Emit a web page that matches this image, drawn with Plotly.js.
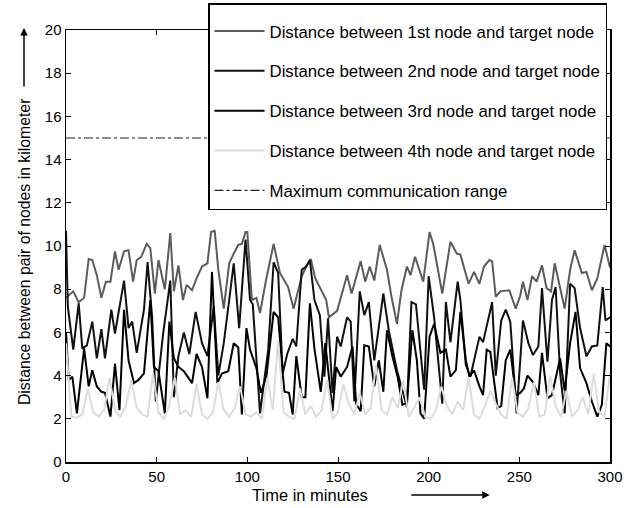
<!DOCTYPE html>
<html>
<head>
<meta charset="utf-8">
<script src="https://cdn.plot.ly/plotly-3.0.1.min.js"></script>
<style>html,body{margin:0;padding:0;background:#fff;}#chart{width:635px;height:508px;}</style>
</head>
<body>
<div id="chart"></div>
<script>
// ---- data ----
const seriesNames = [
  "Distance between 1st node and target node",
  "Distance between 2nd node and target node",
  "Distance between 3rd node and target node",
  "Distance between 4th node and target node",
  "Maximum communication range"
];

const time1 = [0,4,7,10,12.5,14.5,17,19.5,22,24.5,27,29,32,34.5,37,39,41.5,44.5,46.5,49,51,54.5,57.5,59.5,62,64.5,66.5,69.5,72,75,78,80,82,84,87,90,92.5,95,97,99,100,102.5,105,107,110.5,114.5,118,122.5,125.5,130,132.5,135,137.5,141,143.5,145,149.5,155,157.5,162.5,165,167.5,170,173,177,179.5,182.5,185,188,190,192.5,197,200.5,202.5,207.5,212,215.5,217.5,222,225,228,230.5,233.5,235,237,239.5,244.5,248,250.5,252,254.5,257,259.5,262.5,265,267.5,269.5,275,278,280.5,284.5,287,290,293,297,300];
const dist1 = [7.6,7.9,7.4,7.6,9.4,9.35,8.65,7.6,8.35,8.35,9.75,8.9,9.75,9.8,8.35,9.35,9.5,10.1,9.9,7.8,9.35,8.0,10.6,7.9,9.1,7.5,8.2,7.95,8.5,9.05,9.2,10.65,10.7,8.9,7.1,9.2,9.65,10.05,10.1,10.65,10.65,7.5,7.6,6.9,8.5,10.1,8.75,8.1,7.1,8.6,9.05,9.4,8.5,7.9,7.5,6.7,7.0,8.65,7.8,9.3,8.35,9.05,8.4,10.05,8.9,7.65,6.4,7.95,9.05,8.65,9.5,8.35,10.65,10.1,7.8,10.2,9.65,9.6,8.25,8.8,8.25,9.05,9.35,9.3,7.65,7.9,7.95,7.1,7.7,8.35,7.5,8.6,8.35,9.1,8.05,7.9,9.2,7.1,8.9,9.8,8.75,8.8,7.95,8.5,10.05,9.0];

const time2 = [0,1,4,7,9,11.5,14.5,17,19.5,21.5,25,27,32,34.5,36.5,39,43,45,47.5,49.5,53.5,57.5,59.5,62,65,68,71.5,75,78,81.5,84,87,90,92.5,95.5,99,101.5,103,107,111.5,114.5,117,119.5,122,125,127,130,132.5,134.5,137,140,142.5,144.5,147,149.5,151.5,155,157,159,162,164.5,167,170,175,178,182.5,188,190.5,193,197.5,200,203,207.5,209.5,212,216,217.5,220.5,223,228,230,235,237,240,242.5,245,248.5,252,255,257.5,260.5,262.5,265.5,268,270,272.5,275,278,280.5,283.5,287,290,293,296,297.5,300];
const dist2 = [10.7,7.2,5.2,7.35,5.25,5.4,6.5,4.8,6.15,4.8,7.05,5.95,8.4,6.2,6.5,5.05,7.05,9.25,6.7,2.8,5.9,8.4,3.0,4.9,6.0,5.0,6.95,5.5,4.9,7.2,4.0,5.5,7.5,9.2,6.2,10.3,7.5,7.3,2.25,5.2,9.25,8.75,4.1,5.0,5.7,5.35,8.9,9.05,9.35,7.5,6.8,3.95,6.65,3.2,5.8,5.35,6.7,6.5,2.8,7.9,6.8,7.4,4.7,7.8,6.1,4.25,2.55,7.4,7.3,3.35,8.6,6.7,2.7,7.4,5.55,8.35,7.5,4.5,3.95,5.8,5.55,7.4,4.0,6.55,7.05,6.5,2.25,6.55,5.5,4.95,5.35,8.05,4.65,7.5,8.1,4.1,2.25,8.25,8.05,6.2,4.9,5.35,5.4,8.1,6.55,6.7];

const time3 = [0,1.5,3.5,6,10,12.5,14.5,17,19.5,21.5,24.5,27,29.5,32,34.5,37.5,40,43,46.5,48.5,51,54.5,57,59.5,62,65,69.5,72,75,78,80.5,83.5,86,89.5,92.5,95,97,99.5,101.5,105,107.5,110.5,114.5,117,119.5,120.5,123,125,127,130,132,134.5,137,140.5,143,145.5,147,149,151.5,155,158,160,162.5,164.5,167,170,172.5,175,177,180,183,185.5,188,191,193.5,195.5,197.5,200.5,203,206.5,209.5,212,215,217.5,220.5,222.5,225,228,230,232,234,238,240,242.5,245,248,250.5,252.5,254.5,257.5,260.5,262.5,265.5,268,272.5,275,278,281,283.5,287,290,293,295.5,298,300];
const dist3 = [6.0,3.8,3.95,2.25,5.25,3.5,4.25,3.5,3.25,3.2,2.1,4.55,2.4,7.05,4.7,3.65,3.8,4.1,7.5,4.4,4.2,2.25,6.5,4.8,4.4,4.2,3.65,5.0,4.4,2.95,8.8,3.65,4.1,4.2,5.5,5.3,2.2,6.2,5.2,4.35,3.2,3.95,6.95,6.7,4.1,3.25,3.2,2.2,4.9,3.0,3.0,7.35,5.25,3.25,5.5,3.65,2.35,4.4,3.95,4.4,5.35,2.7,2.35,5.4,5.35,3.5,4.7,3.25,6.1,4.9,3.9,2.65,2.75,6.1,4.7,2.25,2.0,5.8,6.4,5.05,5.2,3.95,4.25,6.95,4.7,3.95,4.25,3.5,3.1,5.2,5.1,2.5,2.6,4.7,5.2,3.1,3.2,3.4,4.0,3.7,3.1,5.05,2.95,3.1,4.8,3.3,5.5,6.95,4.35,3.65,2.8,2.1,2.65,5.5,5.35];

const time4 = Array.from({length: 101}, (_, i) => i * 3); // sampling instants, every 3 minutes
const dist4 = [5.5,2.1,2.05,2.2,3.4,2.3,2.1,2.4,3.9,2.4,
               2.1,2.6,3.8,2.5,2.2,2.1,4.1,2.3,2.0,2.6,
               3.9,2.2,2.4,2.1,3.6,2.2,2.0,2.3,3.7,2.4,
               2.1,2.5,3.5,2.2,2.1,2.3,2.0,3.9,2.4,5.6,
               2.3,2.1,2.0,3.4,2.2,2.6,2.1,2.4,3.8,2.0,
               2.3,3.6,2.7,2.2,3.2,2.2,2.5,4.5,2.4,2.2,
               3.0,2.5,3.8,2.1,2.5,3.0,2.1,2.0,2.4,3.5,
               2.6,2.2,2.8,2.4,3.9,2.2,2.0,2.6,3.3,2.7,
               2.2,2.0,3.9,2.3,2.1,2.5,3.7,2.1,2.2,4.0,
               2.6,2.1,3.3,2.1,2.4,3.0,2.2,4.1,2.3,2.1,
               4.1];

const rangeTime = [0, 300];
const rangeDist = [15, 15];

const xTicks = [0, 50, 100, 150, 200, 250, 300];
const yTicks = [0, 2, 4, 6, 8, 10, 12, 14, 16, 18, 20];

// ---- chart ----
const FONT = "Liberation Sans, Arial, Helvetica, sans-serif";

const traces = [
  {x: time1, y: dist1, name: seriesNames[0], legendgroup: "g1", mode: "lines", line: {color: "#5c5c5c", width: 2}},
  {x: time2, y: dist2, name: seriesNames[1], legendgroup: "g2", mode: "lines", line: {color: "#111111", width: 2}},
  {x: time3, y: dist3, name: seriesNames[2], legendgroup: "g3", mode: "lines", line: {color: "#000000", width: 2}},
  {x: time4, y: dist4, name: seriesNames[3], legendgroup: "g4", mode: "lines", line: {color: "#dcdcdc", width: 2}},
  {x: rangeTime, y: rangeDist, name: seriesNames[4], legendgroup: "g5", mode: "lines", line: {color: "#222222", width: 1.2, dash: "dashdot"}}
];

const axisCommon = {
  showline: true, linecolor: "#000", linewidth: 1.5, mirror: "allticks",
  ticks: "inside", ticklen: 5, tickwidth: 1, tickcolor: "#000",
  showgrid: false, zeroline: false, automargin: false,
  tickfont: {family: FONT, size: 15, color: "#000"}
};

const layout = {
  width: 635, height: 508,
  margin: {l: 66, r: 25, t: 30, b: 46, autoexpand: false},
  paper_bgcolor: "#fff", plot_bgcolor: "#fff",
  font: {family: FONT, size: 15, color: "#000"},
  xaxis: Object.assign({}, axisCommon, {range: [0, 300], tickmode: "array", tickvals: xTicks, ticktext: xTicks.map(String)}),
  yaxis: Object.assign({}, axisCommon, {range: [0, 20], tickmode: "array", tickvals: yTicks, ticktext: yTicks.map(String)}),
  showlegend: true,
  legend: {
    x: 0.9945, xanchor: "right", y: 1.0625, yanchor: "top",
    bgcolor: "#fff", bordercolor: "#000", borderwidth: 1.5,
    font: {family: FONT, size: 16.8, color: "#000"},
    title: {text: " ", font: {family: FONT, size: 7}},
    itemwidth: 50,
    traceorder: "grouped", tracegroupgap: 15
  },
  annotations: [
    {text: "Time in minutes", xref: "paper", yref: "paper", x: 0.4485, y: -0.0764, showarrow: false,
     xanchor: "center", yanchor: "middle", font: {family: FONT, size: 16.5, color: "#000"}},
    {text: "", xref: "paper", yref: "paper", x: 0.779, y: -0.0764, showarrow: true,
     ax: -80, ay: 0, arrowhead: 2, arrowsize: 1, arrowwidth: 1.5, arrowcolor: "#000"},
    {text: "Distance between pair of nodes in kilometer", xref: "paper", yref: "paper", x: -0.0772, y: 0.486,
     textangle: -90, showarrow: false, xanchor: "center", yanchor: "middle",
     font: {family: FONT, size: 15.8, color: "#000"}},
    {text: "", xref: "paper", yref: "paper", x: -0.0772, y: 1.0046, showarrow: true,
     ax: 0, ay: 60, arrowhead: 2, arrowsize: 1, arrowwidth: 1.5, arrowcolor: "#000"}
  ]
};

Plotly.newPlot("chart", traces, layout, {displayModeBar: false, staticPlot: true});
</script>
</body>
</html>
